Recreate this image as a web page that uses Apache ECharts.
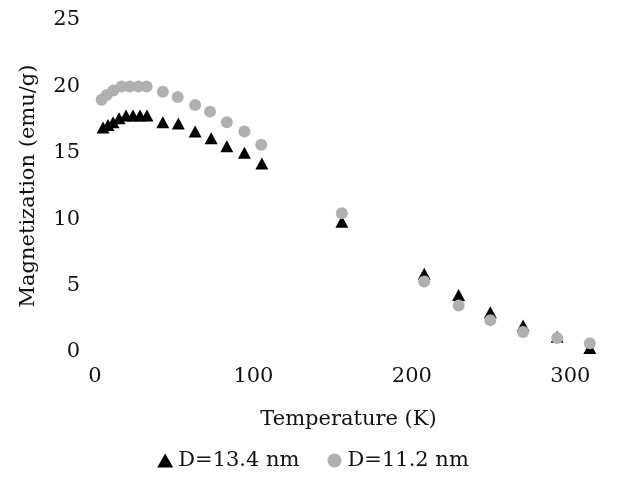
<!DOCTYPE html>
<html lang="en">
<head>
	<meta charset="UTF-8">
	<title>Magnetization vs Temperature</title>
	<style>
		html,body{margin:0;padding:0;background:#fff;}
		#main{width:626px;height:479px;}
	</style>
</head>
<body>
	<div id="main"></div>
	<script src="https://cdn.jsdelivr.net/npm/echarts@6/dist/echarts.min.js"></script>
	<script>
		// D=13.4 nm (triangles)
		var tempA = [5.1, 8.2, 11.4, 15.2, 19.6, 24, 28.4, 32.8, 42.8, 52.6, 63.2, 73.3, 83.2, 94.3, 105.3, 155.8, 207.8, 229.5, 249.5, 270.2, 291.7, 312.3];
		var magA = [16.9, 17.1, 17.3, 17.6, 17.8, 17.8, 17.8, 17.8, 17.3, 17.2, 16.6, 16.1, 15.5, 15.0, 14.2, 9.8, 5.9, 4.3, 3.0, 2.0, 1.15, 0.3];
		// D=11.2 nm (grey dots)
		var tempB = [4.2, 7.4, 11.6, 16.8, 22, 27.4, 32.6, 42.8, 52.2, 63.2, 72.6, 83.2, 94.3, 104.9, 155.8, 207.8, 229.5, 249.5, 270.2, 291.7, 312.3];
		var magB = [19.0, 19.35, 19.7, 20.0, 20.0, 20.0, 20.0, 19.6, 19.2, 18.6, 18.1, 17.3, 16.6, 15.6, 10.45, 5.3, 3.5, 2.4, 1.5, 1.05, 0.65];
		var seriesNames = ['D=13.4 nm', 'D=11.2 nm'];

		function pairs(xs, ys){
			var out = [];
			for (var i = 0; i < xs.length; i++) {
				out.push([xs[i], ys[i]]);
			}
			return out;
		}

		var font = 'DejaVu Serif';
		var myChart = echarts.init(document.getElementById('main'));
		var option = {
			animation: false,
			textStyle: {fontFamily: font},
			grid: {left: 95, top: 20, right: 24, bottom: 127},
			legend: {
				bottom: 3,
				left: 'center',
				itemGap: 28,
				itemWidth: 16,
				itemHeight: 14,
				textStyle: {fontFamily: font, fontSize: 21, color: '#111'},
				data: [
					{name: seriesNames[0], icon: 'triangle'},
					{name: seriesNames[1], icon: 'circle', itemStyle: {color: '#b0b0b0'}}
				]
			},
			xAxis: {
				type: 'value',
				min: 0,
				max: 320,
				interval: 100,
				name: 'Temperature (K)',
				nameLocation: 'middle',
				nameGap: 57,
				nameTextStyle: {fontFamily: font, fontSize: 21, color: '#111'},
				axisLine: {show: false},
				axisTick: {show: false},
				splitLine: {show: false},
				axisLabel: {showMaxLabel: false, margin: 14, fontFamily: font, fontSize: 21, color: '#111'}
			},
			yAxis: {
				type: 'value',
				min: 0,
				max: 25,
				interval: 5,
				name: 'Magnetization (emu/g)',
				nameLocation: 'middle',
				nameGap: 56,
				nameTextStyle: {fontFamily: font, fontSize: 21, color: '#111'},
				axisLine: {show: false},
				axisTick: {show: false},
				splitLine: {show: false},
				axisLabel: {margin: 15, fontFamily: font, fontSize: 21, color: '#111'}
			},
			series: [
				{
					name: seriesNames[0],
					type: 'scatter',
					symbol: 'triangle',
					symbolSize: [13, 12],
					itemStyle: {color: '#000', opacity: 1},
					data: pairs(tempA, magA)
				},
				{
					name: seriesNames[1],
					type: 'scatter',
					symbol: 'circle',
					symbolSize: 12,
					itemStyle: {color: '#b0b0b0', opacity: 1},
					data: pairs(tempB, magB)
				}
			]
		};
		myChart.setOption(option);
	</script>
</body>
</html>
